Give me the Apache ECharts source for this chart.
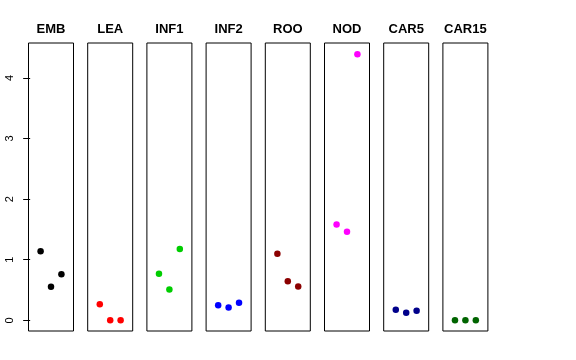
<!DOCTYPE html>
<html><head><meta charset="utf-8">
<script src="https://cdn.jsdelivr.net/npm/echarts@6/dist/echarts.min.js"></script>
<style>html,body{margin:0;padding:0;background:#fff}#c{width:576px;height:360px}</style>
</head><body><div id="c"></div>
<script>
const groups = ["EMB","LEA","INF1","INF2","ROO","NOD","CAR5","CAR15"];
const colors = ["#000000","#FF0000","#00CD00","#0000FF","#8B0000","#FF00FF","#00008B","#006400"];
const EMB = [1.14, 0.555, 0.76];
const LEA = [0.265, 0.0, 0.0];
const INF1 = [0.77, 0.51, 1.175];
const INF2 = [0.25, 0.21, 0.29];
const ROO = [1.10, 0.645, 0.56];
const NOD = [1.58, 1.46, 4.39];
const CAR5 = [0.175, 0.125, 0.16];
const CAR15 = [0.0, 0.0, 0.0];
const xPos = [1, 2, 3];
const yTicks = [0, 1, 2, 3, 4];
const values = [EMB, LEA, INF1, INF2, ROO, NOD, CAR5, CAR15];

const grids = [], xAxes = [], yAxes = [], series = [], graphics = [];
const L0 = 28.5, step = 59.2, W = 45, TOP = 43, H = 288;
groups.forEach((g, i) => {
  const left = L0 + i * step;
  grids.push({left: left, top: TOP, width: W, height: H, show: true, borderColor: '#000', borderWidth: 1, backgroundColor: 'transparent'});
  xAxes.push({type: 'value', gridIndex: i, min: -0.16, max: 4.16, show: false});
  yAxes.push({type: 'value', gridIndex: i, min: -0.176, max: 4.576, interval: 1,
    show: i === 0,
    splitLine: {show: false},
    axisLine: {show: false},
    axisTick: {show: i === 0, length: 7, lineStyle: {color: '#000'}, customValues: yTicks},
    axisLabel: {show: i === 0, rotate: 90, margin: 13, color: '#000', fontSize: 11, fontFamily: 'Liberation Sans, Arial, sans-serif', customValues: yTicks}
  });
  series.push({type: 'scatter', xAxisIndex: i, yAxisIndex: i, symbol: 'circle', symbolSize: 6.5,
    itemStyle: {color: colors[i], opacity: 1},
    data: xPos.map((x, k) => [x, values[i][k]]), silent: true, animation: false});
  graphics.push({type: 'text', x: left + W / 2, y: 29.5,
    style: {text: g, textAlign: 'center', textVerticalAlign: 'middle', fill: '#000',
      font: 'bold 13px "Liberation Sans", Arial, sans-serif'}});
});
const chart = echarts.init(document.getElementById('c'), null, {renderer: 'canvas'});
chart.setOption({animation: false, grid: grids, xAxis: xAxes, yAxis: yAxes, series: series, graphic: graphics});
</script></body></html>
